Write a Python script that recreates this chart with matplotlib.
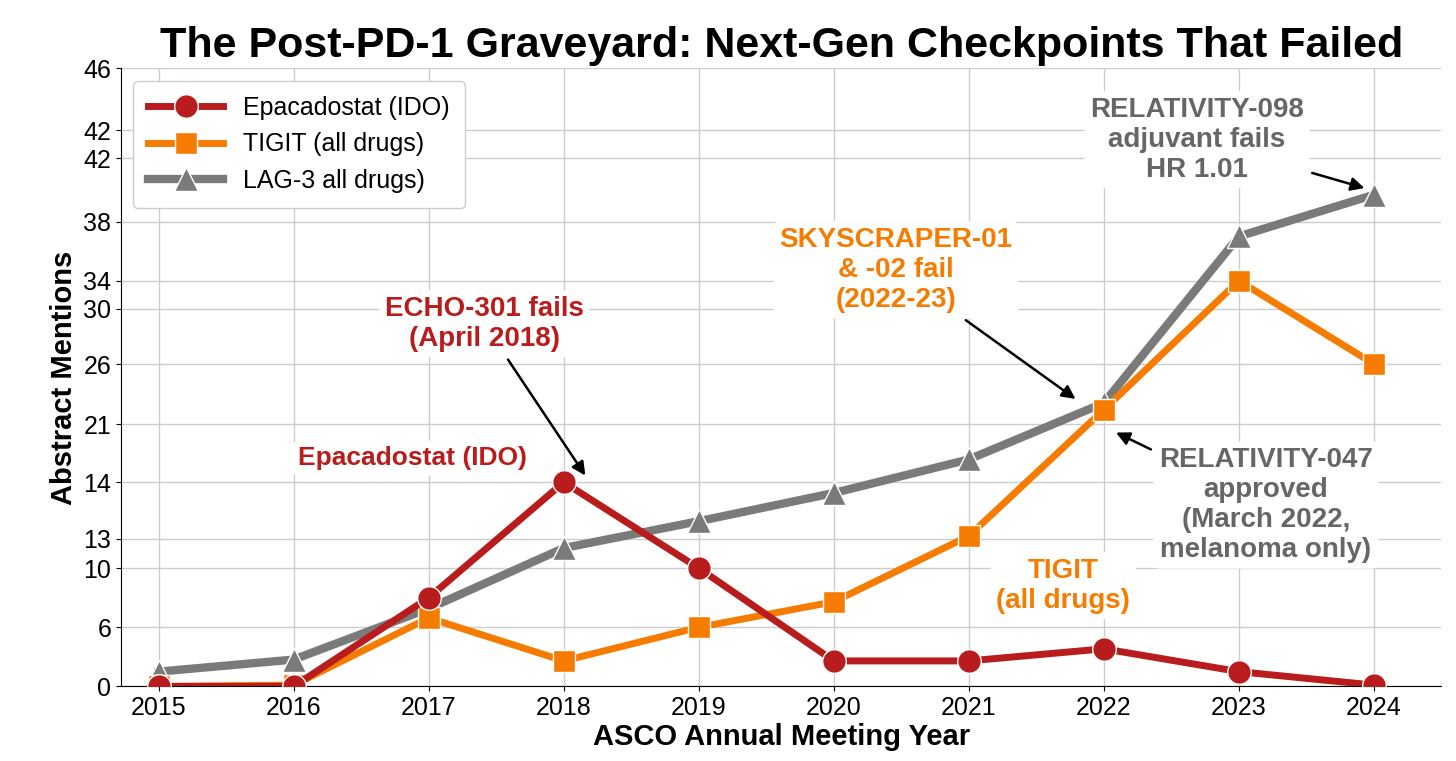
import matplotlib.pyplot as plt
import numpy as np

years = list(range(2015, 2025))
# values on the chart's (odd) display scale
epacadostat = [0, 0, 6.6, 15.2, 8.8, 1.9, 1.9, 2.8, 1.1, 0.1]
tigit = [0, 0.1, 5.1, 1.9, 4.4, 6.3, 11.2, 20.6, 30.2, 24.0]
lag3 = [1.1, 2.0, 5.8, 10.3, 12.3, 14.4, 16.9, 21.1, 33.5, 36.6]
tick_pos = [0, 4.39, 8.78, 11.0, 15.2, 19.5, 24.0, 28.1, 30.2, 34.6, 39.3, 41.4, 46]
tick_labels = ["0", "6", "10", "13", "14", "21", "26", "30", "34", "38", "42", "42", "46"]

RED, ORANGE, GREY = "#b81c1c", "#f57c00", "#7a7a7a"

plt.rcParams['font.family'] = ['Liberation Sans', 'DejaVu Sans']
fig, ax = plt.subplots(figsize=(14.56, 7.61), dpi=100)
fig.subplots_adjust(left=0.083, right=0.99, top=0.91, bottom=0.098)

ax.plot(years, lag3, color=GREY, lw=6, marker="^", ms=17, mec="white", mew=1, label="LAG-3 all drugs)", zorder=3)
ax.plot(years, tigit, color=ORANGE, lw=5, marker="s", ms=16, mec="white", mew=1, label="TIGIT (all drugs)", zorder=4)
ax.plot(years, epacadostat, color=RED, lw=5, marker="o", ms=17, mec="white", mew=1, label="Epacadostat (IDO)", zorder=5)

h, l = ax.get_legend_handles_labels()
ax.legend(h[::-1], l[::-1], loc="upper left", fontsize=18, framealpha=1, borderpad=0.6, handlelength=3)

ax.set_xlim(2014.72, 2024.5)
ax.set_ylim(0, 46)
ax.set_xticks(years)
ax.set_yticks(tick_pos)
ax.set_yticklabels(tick_labels)
ax.tick_params(labelsize=18)
ax.grid(True, color="#cccccc", lw=1)
ax.spines[['top', 'right']].set_visible(False)
ax.set_xlabel("ASCO Annual Meeting Year", fontsize=21, fontweight="bold", labelpad=2)
ax.set_ylabel("Abstract Mentions", fontsize=21, fontweight="bold")
ax.set_title("The Post-PD-1 Graveyard: Next-Gen Checkpoints That Failed", fontsize=31, fontweight="bold", pad=8)

box = dict(boxstyle="round,pad=0.2", fc="white", ec="none")
arrow = dict(arrowstyle="-|>", color="black", lw=1.8, mutation_scale=20, shrinkA=2, shrinkB=0)
ax.annotate("ECHO-301 fails\n(April 2018)", xy=(2018.16, 15.7), xytext=(2017.41, 27.0),
            fontsize=20, fontweight="bold", color=RED, ha="center", va="center", bbox=box, arrowprops=arrow)
ax.text(2016.88, 17.0, "Epacadostat (IDO)", fontsize=19, fontweight="bold", color=RED, ha="center", va="center", bbox=box)
ax.annotate("SKYSCRAPER-01\n& -02 fail\n(2022-23)", xy=(2021.79, 21.4), xytext=(2020.46, 31.0),
            fontsize=20, fontweight="bold", color=ORANGE, ha="center", va="center", bbox=box, arrowprops=arrow)
ax.text(2021.7, 7.5, "TIGIT\n(all drugs)", fontsize=20, fontweight="bold", color=ORANGE, ha="center", va="center", bbox=box)
ax.annotate("RELATIVITY-098\nadjuvant fails\nHR 1.01", xy=(2023.93, 37.1), xytext=(2022.69, 40.7),
            fontsize=20, fontweight="bold", color="#666666", ha="center", va="center",
            bbox=box, arrowprops=arrow)
ax.annotate("RELATIVITY-047\napproved\n(March 2022,\nmelanoma only)", xy=(2022.09, 18.9), xytext=(2023.2, 13.5),
            fontsize=20, fontweight="bold", color="#666666", ha="center", va="center", bbox=box, arrowprops=arrow)

fig.savefig("out.png", dpi=100)
